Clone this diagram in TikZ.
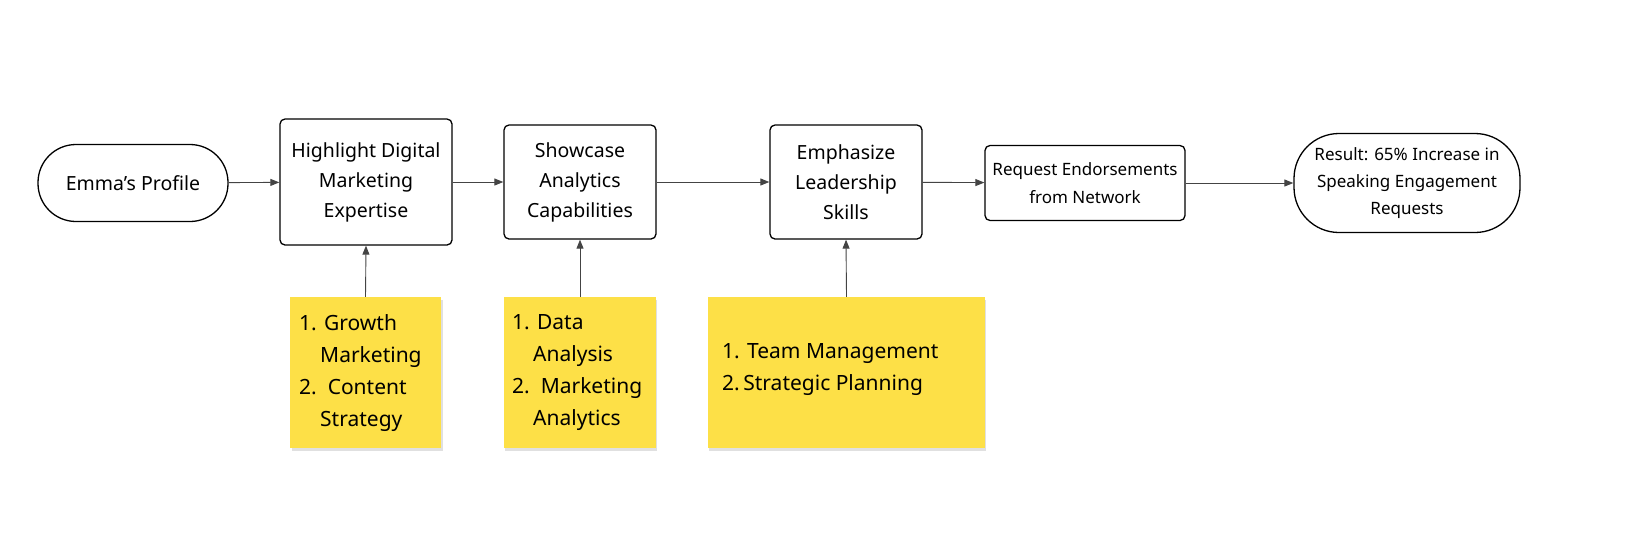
\documentclass[tikz,border=0pt]{standalone}
\usepackage{fontspec}
\setmainfont{Noto Sans}
\usetikzlibrary{arrows.meta}
\definecolor{sticky}{HTML}{FDE047}
\definecolor{edge}{HTML}{444444}
\begin{document}
\begin{tikzpicture}[x=1pt,y=-1pt,
  box/.style={draw=black,line width=1.3pt,rounded corners=5pt,align=center,font=\fontsize{19.5}{30}\selectfont,inner sep=0pt},
  pill/.style={box,rounded corners=38pt},
  note/.style={fill=sticky,draw=none,inner sep=0pt},
  ntext/.style={align=left,font=\fontsize{21}{32}\selectfont,inner sep=0pt,anchor=north west},
  arr/.style={draw=edge,line width=0.9pt,-{Triangle[length=9pt,width=7pt]}}]
\useasboundingbox (0,0) rectangle (1648,558);
\node[pill,minimum width=190pt,minimum height=77pt] (emma) at (133,183) {Emma’s Profile};
\node[box,minimum width=172pt,minimum height=126pt] (hl) at (366,182) {Highlight Digital\\Marketing\\Expertise};
\node[box,minimum width=152pt,minimum height=114pt] (sc) at (580,182) {Showcase\\Analytics\\Capabilities};
\node[box,minimum width=152pt,minimum height=114pt] (em) at (846,182) {Emphasize\\Leadership\\Skills};
\node[box,minimum width=200pt,minimum height=75pt,font=\fontsize{17}{28}\selectfont] (rq) at (1085,183) {Request Endorsements\\from Network};
\node[pill,rounded corners=45pt,minimum width=226pt,minimum height=99pt,font=\fontsize{17}{27}\selectfont] (res) at (1407,183) {Result: 65\% Increase in\\Speaking Engagement\\Requests};
\foreach \x/\w in {366/151,580/152,846.5/277}
  \fill[black,opacity=0.12] (\x-\w/2+1,300) rectangle (\x+\w/2+1,451);
\node[note,minimum width=151pt,minimum height=151pt] (n1) at (365.5,372.5) {};
\node[ntext] (t1) at (299,314) {1. Growth\\\hspace*{21pt}Marketing\\2.\ \ Content\\\hspace*{21pt}Strategy};
\node[note,minimum width=152pt,minimum height=151pt] (n2) at (580,372.5) {};
\node[ntext] (t2) at (512,314) {1. Data\\\hspace*{21pt}Analysis\\2.\ \ Marketing\\\hspace*{21pt}Analytics};
\node[note,minimum width=277pt,minimum height=151pt] (n3) at (846.5,372.5) {};
\node[ntext] (t3) at (722,343) {1. Team Management\\2.\,Strategic Planning};
\draw[arr] (emma) -- (hl);
\draw[arr] (hl) -- (sc);
\draw[arr] (sc) -- (em);
\draw[arr] (em) -- (rq);
\draw[arr] (rq) -- (res);
\draw[arr] (n1.north) -- (hl.south);
\draw[arr] (n2.north) -- (sc.south);
\draw[arr] (n3.north) -- (em.south);
\end{tikzpicture}
\end{document}
